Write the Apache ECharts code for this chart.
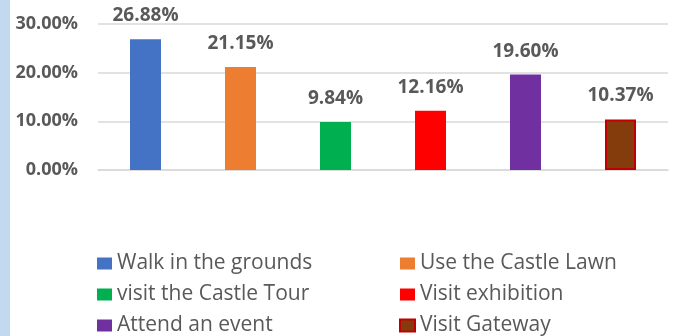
<!DOCTYPE html>
<html>
<head>
<meta charset="utf-8">
<script src="https://cdn.jsdelivr.net/npm/echarts@6/dist/echarts.min.js"></script>
<style>
  html, body { margin: 0; padding: 0; background: #ffffff; }
  #chart { width: 677px; height: 336px; }
</style>
</head>
<body>
<div id="chart"></div>
<script>
// Visitor activities and their share of responses (%)
const activities = [
  'Walk in the grounds',
  'Use the Castle Lawn',
  'visit the Castle Tour',
  'Visit exhibition',
  'Attend an event',
  'Visit Gateway'
];
const shares = [26.88, 21.15, 9.84, 12.16, 19.60, 10.37];
const fills = ['#4472C4', '#ED7D31', '#00B050', '#FF0000', '#7030A0', '#843C0C'];
const outlines = [null, null, null, null, null, '#C00000'];
const yTicks = { min: 0, max: 30, step: 10 };

const textGray = '#595959';
const font = '"Open Sans", "DejaVu Sans", sans-serif';

// One series per activity so each gets its own legend entry
const series = activities.map((name, i) => ({
  name,
  type: 'bar',
  barWidth: 31,
  barGap: '-100%',
  data: activities.map((_, j) => (j === i ? shares[i] : '-')),
  itemStyle: {
    color: fills[i],
    borderColor: outlines[i] || fills[i],
    borderWidth: outlines[i] ? 2 : 0
  },
  label: {
    show: true,
    position: 'top',
    distance: 14,
    formatter: p => p.value.toFixed(2) + '%',
    color: textGray,
    fontWeight: 'bold',
    fontSize: 19,
    fontFamily: font
  }
}));

const legendBase = {
  orient: 'vertical',
  top: 248,
  height: 120,
  itemWidth: 15,
  itemHeight: 12,
  itemGap: 10,
  icon: 'rect',
  textStyle: { color: textGray, fontSize: 21, fontFamily: font, lineHeight: 20 }
};

const chart = echarts.init(document.getElementById('chart'));
chart.setOption({
  animation: false,
  backgroundColor: '#ffffff',
  graphic: [
    { type: 'rect', left: 0, top: 0, shape: { width: 9, height: 336 }, style: { fill: '#C3D9F0' } },
    { type: 'line', shape: { x1: 9.5, y1: 0, x2: 9.5, y2: 336 }, style: { stroke: '#D4D4D4', lineWidth: 1 } }
  ],
  grid: { left: 98, right: 9, top: 24, bottom: 166, containLabel: false },
  xAxis: {
    type: 'category',
    data: activities,
    axisLine: { show: true, lineStyle: { color: '#D9D9D9', width: 1.5 } },
    axisTick: { show: false },
    axisLabel: { show: false }
  },
  yAxis: {
    type: 'value',
    min: yTicks.min,
    max: yTicks.max,
    interval: yTicks.step,
    axisLine: { show: false },
    axisTick: { show: false },
    splitLine: { lineStyle: { color: '#D9D9D9', width: 1.5 } },
    axisLabel: {
      formatter: v => v.toFixed(2) + '%',
      color: textGray,
      fontWeight: 'bold',
      fontSize: 18,
      fontFamily: font,
      margin: 20
    }
  },
  legend: [
    Object.assign({}, legendBase, { left: 92, data: [activities[0], activities[2], activities[4]] }),
    Object.assign({}, legendBase, { left: 394, data: [activities[1], activities[3], activities[5]] })
  ],
  series
});
</script>
</body>
</html>
